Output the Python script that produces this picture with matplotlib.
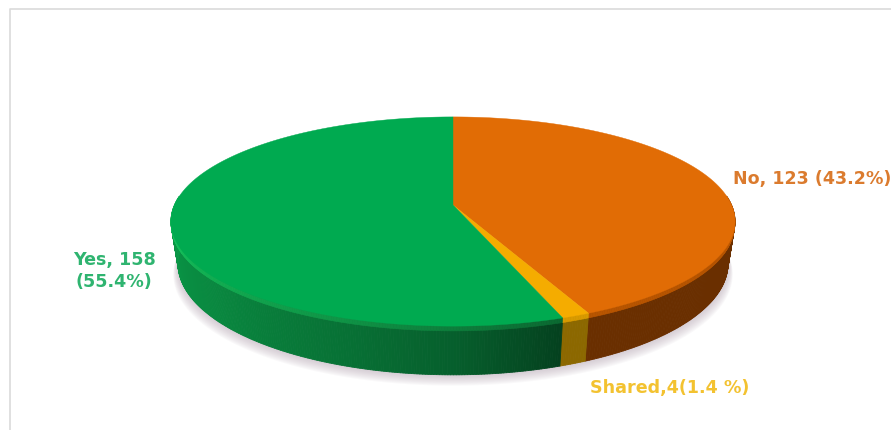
import numpy as np
import matplotlib
matplotlib.use('Agg')
import matplotlib.pyplot as plt
from matplotlib.collections import PolyCollection
from matplotlib.colors import to_rgb

categories = ['No', 'Shared', 'Yes']
counts = [123, 4, 158]
top_colors = ['#E16C05', '#F5AC00', '#00AA50']
wall_colors = ['#6A2F00', '#8C6800', '#0A9A48']
rim_colors = ['#B85500', '#D89A00', '#14BE5A']
label_texts = ['No, 123 (43.2%)', 'Shared,4(1.4 %)', 'Yes, 158\n(55.4%)']
label_colors = ['#DB7B2E', '#F3C230', '#2FB470']
label_pos = [(812, 179), (670, 388), (114, 271)]

# pie geometry in pixels, with a simple perspective on the disc
cx, cy = 453, 205
radius = 278.5
squash = 102
persp = 0.158
depth = 41
bevel = 4.0
taper = 0.025


def project(angle, lift=0.0):
    # angle runs clockwise from 12 o'clock, in radians
    u, v = np.sin(angle), np.cos(angle)
    w = 1 + persp * v
    narrow = 1 - taper * lift / depth
    return cx + radius * narrow * u / w, cy - squash * v / w + lift / w


def wall_shade(deg, i):
    # only the green wall changes along its length
    if i == 2:
        return np.interp(deg, [160, 180, 200, 230, 270, 360], [0.42, 0.62, 0.74, 0.88, 1.0, 1.0])
    return 1.0


def rim_shade(deg, i):
    if i == 2:
        return np.interp(deg, [160, 200, 250, 360], [0.55, 0.78, 1.0, 1.0])
    return 1.0


fig = plt.figure(figsize=(8.91, 4.3), dpi=100)
ax = fig.add_axes([0, 0, 1, 1])
ax.set_xlim(0, 891)
ax.set_ylim(430, 0)
ax.axis('off')

# chart area border, left and top only
ax.plot([10, 10, 891], [430, 9, 9], color='#DADADA', lw=1.2, zorder=1)

# soft shadow under the disc
full = np.radians(np.linspace(0, 360, 361))
sx, sy = project(full, depth)
for spread in np.linspace(12, 1, 10):
    ax.fill(cx + (sx - cx) * (1 + spread / 700), sy + spread * 0.9,
            color='#B8A8B4', alpha=0.07, lw=0, zorder=2)

edges = np.concatenate([[0], np.cumsum(counts) / np.sum(counts) * 360])

# side wall and bevel are built from thin strips, front half only
walls, wall_faces, rims, rim_faces = [], [], [], []
for i in range(len(counts)):
    steps = np.arange(edges[i], edges[i + 1], 0.5)
    steps = np.append(steps, edges[i + 1])
    for a, b in zip(steps[:-1], steps[1:]):
        ra, rb = np.radians(a), np.radians(b)
        if np.cos(ra) > 0.08 and np.cos(rb) > 0.08:
            continue
        x0, y0 = project(ra)
        x1, y1 = project(rb)
        x2, y2 = project(rb, depth)
        x3, y3 = project(ra, depth)
        walls.append([(x0, y0), (x1, y1), (x2, y2), (x3, y3)])
        wall_faces.append(np.array(to_rgb(wall_colors[i])) * wall_shade(a, i))
        x2, y2 = project(rb, bevel)
        x3, y3 = project(ra, bevel)
        rims.append([(x0, y0), (x1, y1), (x2, y2), (x3, y3)])
        rim_faces.append(np.array(to_rgb(rim_colors[i])) * rim_shade(a, i))

ax.add_collection(PolyCollection(walls, facecolors=wall_faces, edgecolors=wall_faces,
                                 linewidths=0.6, zorder=3))
ax.add_collection(PolyCollection(rims, facecolors=rim_faces, edgecolors=rim_faces,
                                 linewidths=0.4, zorder=4))

# top of the disc
for i in range(len(counts)):
    arc = np.radians(np.linspace(edges[i], edges[i + 1], 240))
    ax_, ay_ = project(arc)
    ax.fill(np.r_[cx, ax_], np.r_[cy, ay_], color=top_colors[i], lw=0.3, zorder=5)

for text, color, (tx, ty) in zip(label_texts, label_colors, label_pos):
    ax.text(tx, ty, text, color=color, fontsize=12.6, fontweight='bold', ha='center',
            va='center', linespacing=1.25, family='DejaVu Sans', zorder=6)

fig.savefig('out.png', dpi=100, facecolor='white')
